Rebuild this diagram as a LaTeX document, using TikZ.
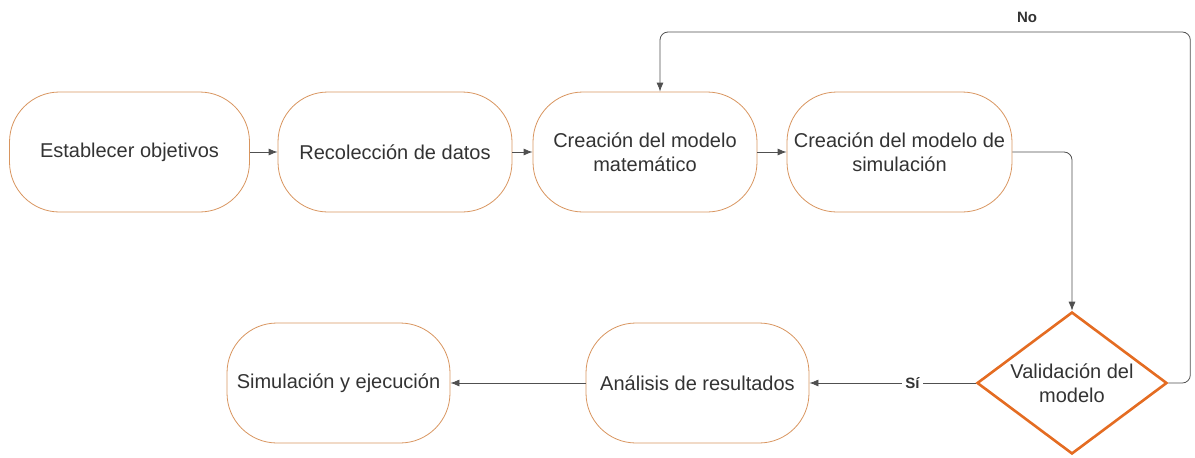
\documentclass[tikz,border=0pt]{standalone}
\usepackage{fontspec}
\setmainfont{Liberation Sans}
\usetikzlibrary{shapes.geometric,arrows.meta}
\definecolor{boxline}{HTML}{D8955F}
\definecolor{diamline}{HTML}{E46C22}
\definecolor{linegray}{HTML}{505050}
\definecolor{txt}{HTML}{333333}
\begin{document}
\begin{tikzpicture}[x=1pt,y=-1pt,
    stepbox/.style={draw=boxline,line width=0.8pt,rounded corners=50pt,minimum height=120pt,inner sep=1pt,align=center,text=txt,font=\fontsize{20}{24}\selectfont},
    decision/.style={diamond,draw=diamline,line width=2.6pt,minimum width=190pt,minimum height=142pt,inner sep=-12pt,align=center,text=txt,font=\fontsize{20}{24}\selectfont},
    conn/.style={draw=linegray,line width=0.8pt,-{Latex[length=9pt,width=7pt]}},
    lbl/.style={font=\fontsize{15}{18}\selectfont\bfseries,text=txt}]
      \useasboundingbox (0,0) rectangle (1195,458);
      \node[stepbox,minimum width=240pt] (0) at (129.5,152) {Establecer objetivos};
      \node[stepbox,minimum width=234pt] (1) at (395,152) {Recolección de datos};
      \node[stepbox,minimum width=224pt] (2) at (645,152) {Creación del modelo\\matemático};
      \node[stepbox,minimum width=225pt] (3) at (899.5,152) {Creación del modelo de\\simulación};
      \node[decision] (4) at (1072,383) {Validación del\\modelo};
      \node[stepbox,minimum width=223pt] (5) at (697.5,383) {Análisis de resultados};
      \node[stepbox,minimum width=223pt] (6) at (338.5,383) {Simulación y ejecución};
      \node[lbl] (7) at (1027,17) {No};
      \coordinate (8) at (660,32);
      \draw[conn] (0.east) -- (1.west);
      \draw[conn] (1.east) -- (2.west);
      \draw[conn] (2.east) -- (3.west);
      \draw[conn,rounded corners=8pt] (3.east) -| (4.north);
      \draw[conn,rounded corners=8pt] (4.east) -- ++(22,0) |- (8) -- ([xshift=15pt]2.north);
      \draw[conn] (4.west) -- node[lbl,fill=white,pos=0.38] {Sí} (5.east);
      \draw[conn] (5.west) -- (6.east);
    \end{tikzpicture}
\end{document}
